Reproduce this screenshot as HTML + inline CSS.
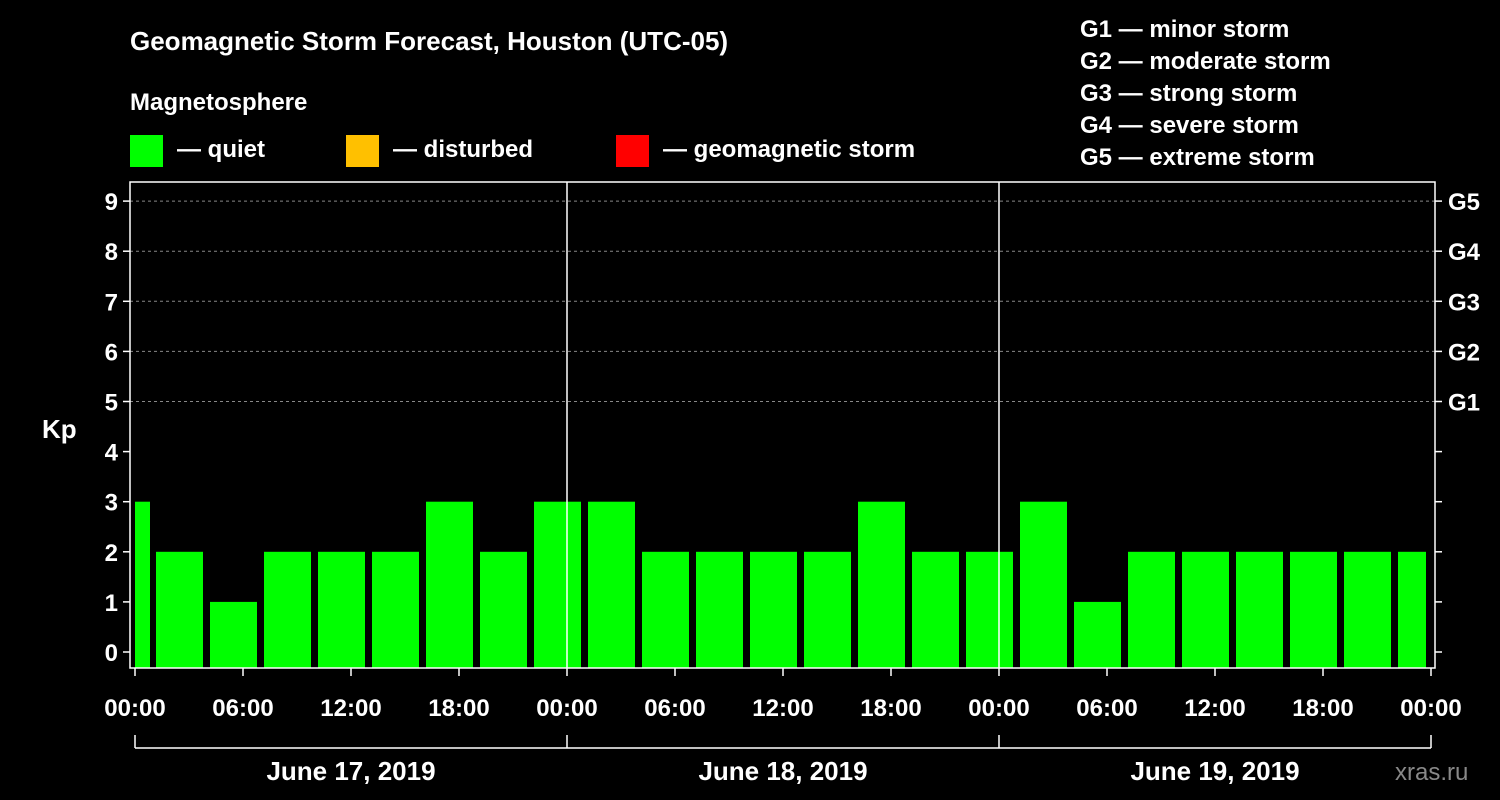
<!DOCTYPE html>
<html><head><meta charset="utf-8"><style>
body{margin:0;background:#000;}
svg{display:block;font-family:"Liberation Sans",Arial,sans-serif;font-weight:bold;}
</style></head><body>
<svg id="c" width="1500" height="800" viewBox="0 0 1500 800">
<rect width="1500" height="800" fill="#000"/>
<text x="130" y="50" fill="#fff" font-size="26">Geomagnetic Storm Forecast, Houston (UTC-05)</text>
<text x="130" y="110" fill="#fff" font-size="24">Magnetosphere</text>
<g><rect x="130" y="135" width="33" height="32" fill="#00ff00"/><text x="177" y="157" fill="#fff" font-size="24">— quiet</text></g>
<g><rect x="346" y="135" width="33" height="32" fill="#ffc000"/><text x="393" y="157" fill="#fff" font-size="24">— disturbed</text></g>
<g><rect x="616" y="135" width="33" height="32" fill="#ff0000"/><text x="663" y="157" fill="#fff" font-size="24">— geomagnetic storm</text></g>
<g fill="#fff" font-size="24">
<text x="1080" y="37">G1 — minor storm</text><text x="1080" y="69">G2 — moderate storm</text>
<text x="1080" y="101">G3 — strong storm</text><text x="1080" y="133">G4 — severe storm</text>
<text x="1080" y="165">G5 — extreme storm</text></g>
<text x="42" y="438" fill="#fff" font-size="26">Kp</text>
<text x="1395" y="780" fill="#888" font-size="24" font-weight="normal">xras.ru</text>
<g id="plot"></g>
</svg>
<script>
const firstPartial = 3;
const kpValues = [2,1,2,2,2,3,2,3,3,2,2,2,2,3,2,2,3,1,2,2,2,2,2,2];
const yTicks = [0,1,2,3,4,5,6,7,8,9];
const gLabels = ["G1","G2","G3","G4","G5"];
const xTickLabels = ["00:00","06:00","12:00","18:00","00:00","06:00","12:00","18:00","00:00","06:00","12:00","18:00","00:00"];
const dayLabels = ["June 17, 2019","June 18, 2019","June 19, 2019"];
const NS="http://www.w3.org/2000/svg";
const g=document.getElementById('plot');
const L=130,R=1435,T=182,B=668,X0=135,DAY=432;
const y=v=>652-v*50.1;
const x=h=>X0+h*DAY/24;
function mk(t,a,p){const e=document.createElementNS(NS,t);for(const k in a)e.setAttribute(k,a[k]);(p||g).appendChild(e);return e;}
// grid
yTicks.forEach(v=>{
  if(v>=5){const l=mk('line',{x1:L,x2:R,y1:y(v),y2:y(v),stroke:'#888','stroke-dasharray':'3,3'});}
  const t=mk('text',{x:118,y:y(v)+9,fill:'#fff','font-size':24,'text-anchor':'end'});t.textContent=v;
  
  mk('line',{x1:123,x2:L,y1:y(v),y2:y(v),stroke:'#fff','stroke-width':1.5});
  mk('line',{x1:R,x2:R+7,y1:y(v),y2:y(v),stroke:'#fff','stroke-width':1.5});
});
gLabels.forEach((s,i)=>{const t=mk('text',{x:1448,y:y(5+i)+9,fill:'#fff','font-size':24});t.textContent=s;
  });
// bars
const base=B;
function bar(x1,x2,v,name){const r=mk('rect',{x:x1,y:y(v),width:x2-x1,height:base-y(v),fill:'#00ff00'});
  }
bar(x(0),x(1)-3,firstPartial,'bar-partial-start');
kpValues.forEach((v,k)=>{const s=x(1+3*k)+3,e=Math.min(x(4+3*k)-4,x(72)-5);bar(s,e,v,'bar-'+k);});
// frame
mk('rect',{x:L,y:T,width:R-L,height:B-T,fill:'none',stroke:'#fff','stroke-width':1.5});
[1,2].forEach(d=>mk('line',{x1:x(24*d),x2:x(24*d),y1:T,y2:B,stroke:'#fff','stroke-width':1.5}));
// x ticks
xTickLabels.forEach((s,i)=>{const xx=x(i*6);mk('line',{x1:xx,x2:xx,y1:B,y2:B+8,stroke:'#fff','stroke-width':1.5});
  const t=mk('text',{x:xx,y:716,fill:'#fff','font-size':24,'text-anchor':'middle'});t.textContent=s;
  });
// day bracket
mk('line',{x1:x(0),x2:x(72),y1:748,y2:748,stroke:'#fff','stroke-width':1.5});
[0,1,2,3].forEach(d=>mk('line',{x1:x(24*d),x2:x(24*d),y1:735,y2:748,stroke:'#fff','stroke-width':1.5}));
dayLabels.forEach((s,i)=>{const t=mk('text',{x:x(24*i+12),y:780,fill:'#fff','font-size':26,'text-anchor':'middle'});t.textContent=s;
  });
</script>
</body></html>
